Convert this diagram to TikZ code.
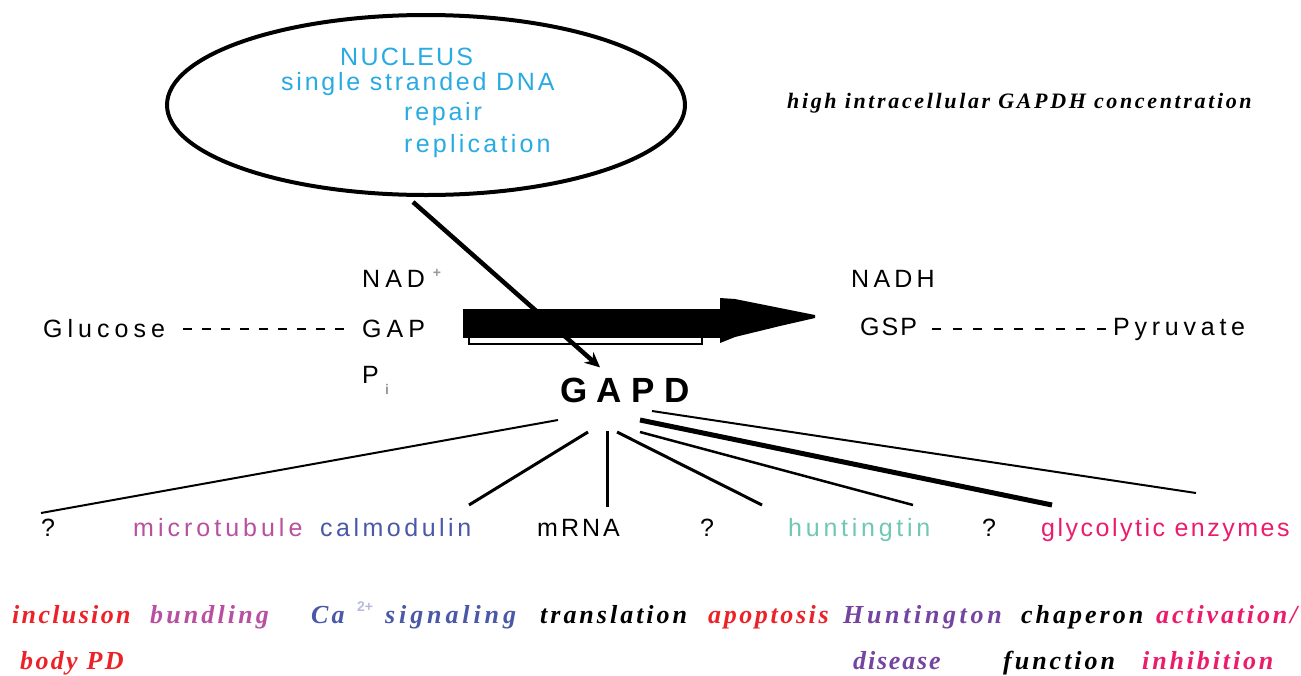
\documentclass[tikz,border=0pt]{standalone}
\usepackage{fontspec}
\setmainfont{Liberation Serif}
\newfontfamily\sansf{Liberation Sans}
\usetikzlibrary{arrows.meta,calc,shapes.geometric}
\definecolor{nucblue}{HTML}{29ABE2}
\definecolor{magc}{HTML}{B94FA0}
\definecolor{bluc}{HTML}{4A58A8}
\definecolor{tealc}{HTML}{70C8B4}
\definecolor{pinkc}{HTML}{EC1C6C}
\definecolor{redc}{HTML}{EC2228}
\definecolor{purc}{HTML}{7444A0}
\newcommand{\lsp}[1]{\addfontfeature{LetterSpace=#1}}
\begin{document}
\begin{tikzpicture}[x=1pt,y=-1pt,
  sanslab/.style={font=\sansf\fontsize{25}{30}\selectfont, inner sep=0pt, anchor=base west},
  seriflab/.style={font=\bfseries\itshape\fontsize{26}{30}\selectfont, inner sep=0pt, anchor=base west},
  suplab/.style={font=\sansf\bfseries\fontsize{14}{15}\selectfont, inner sep=0pt, text=black!40},
  dashline/.style={line width=2pt, dash pattern=on 9pt off 10pt},
  ray/.style={line width=#1},
  ray/.default=2.5pt]
\useasboundingbox (0,0) rectangle (1301,675);
\fill[white] (0,0) rectangle (1301,675);

% nucleus
\node[draw, ellipse, line width=4pt, minimum width=518pt, minimum height=180pt, inner sep=0pt] (nucleus) at (426,105) {};
\node[sanslab, text=nucblue] (nuc) at (340,65) {\lsp{9}NUCLEUS};
\node[sanslab, text=nucblue] (ssdna) at (281,90) {\lsp{11}single stranded DNA};
\node[sanslab, text=nucblue] (repair) at (404,120) {\lsp{11}repair};
\node[sanslab, text=nucblue] (replication) at (404,152) {\lsp{13}replication};

\node[font=\bfseries\itshape\fontsize{22}{26}\selectfont, inner sep=0pt, anchor=base west] (high) at (787,108) {\lsp{12}high intracellular GAPDH concentration};

% reaction labels
\node[sanslab] (glucose) at (43,337) {\lsp{20}Glucose};
\node[sanslab] (nad) at (362,287) {\lsp{20}NAD};
\node[suplab] (nadplus) at (437,273) {+};
\node[sanslab] (gap) at (362,337) {\lsp{20}GAP};
\node[sanslab] (pi) at (362,383) {P};
\node[suplab] (pisub) at (387,389) {i};
\node[sanslab] (nadh) at (851,287) {\lsp{17}NADH};
\node[sanslab] (gsp) at (860,335) {\lsp{8}GSP};
\node[sanslab] (pyruvate) at (1113,335) {\lsp{19}Pyruvate};
\node[font=\sansf\bfseries\fontsize{35}{40}\selectfont, inner sep=0pt, anchor=base west] (gapd) at (560,402) {\lsp{27}GAPD};

\draw[dashline] ($(glucose.base west)+(140,-8)$) -- ($(gap.base west)+(-18,-8)$);
\draw[dashline, dash pattern=on 9pt off 11.6pt] ($(gsp.base west)+(72,-6)$) -- ($(pyruvate.base west)+(-7,-6)$);

% big reaction arrow
\draw[line width=2.5pt] (469,334) -- (469,344) -- (702,344) -- (702,333);
\fill (463,309) rectangle (720,338);
\fill (720,298) -- (735,299) -- (780,308) -- (815,315) -- (815,318) -- (780,326) -- (735,337) -- (720,343) -- cycle;

% nucleus to GAPD
\coordinate (nucout) at ($(nucleus.south)+(-13,5)$);
\coordinate (gapdin) at ($(gapd.north west)+(40,-10)$);
\draw[line width=4.5pt, -{Stealth[length=15pt,width=14pt]}] (nucout) -- (gapdin);

% bottom labels
\node[sanslab] (q1) at (41,536) {?};
\node[sanslab, text=magc] (microtubule) at (133,536) {\lsp{16}microtubule};
\node[sanslab, text=bluc] (calmodulin) at (320,536) {\lsp{14}calmodulin};
\node[sanslab] (mrna) at (537,536) {\lsp{12}mRNA};
\node[sanslab] (q2) at (700,536) {?};
\node[sanslab, text=tealc] (huntingtin) at (788,536) {\lsp{15}huntingtin};
\node[sanslab] (q3) at (982,536) {?};
\node[sanslab, text=pinkc] (glyco) at (1041,536) {\lsp{10}glycolytic enzymes};

% rays from GAPD
\coordinate (sA) at (558,420); \coordinate (eA) at (41,513);
\coordinate (sB) at (588,432); \coordinate (eB) at (469,505);
\coordinate (sC) at (607,431); \coordinate (eC) at (607,507);
\coordinate (sD) at (617,432); \coordinate (eD) at (762,505);
\coordinate (sE) at (640,432); \coordinate (eE) at (913,505);
\coordinate (sF) at (640,420); \coordinate (eF) at (1052,505);
\coordinate (sG) at (652,411); \coordinate (eG) at (1196,493);
\draw[ray=2pt] (sA) -- (eA);
\draw[ray=3pt] (sB) -- (eB);
\draw[ray=3pt] (sC) -- (eC);
\draw[ray=3pt] (sD) -- (eD);
\draw[ray=2.5pt] (sE) -- (eE);
\draw[ray=5pt] (sF) -- (eF);
\draw[ray=2pt] (sG) -- (eG);

% function labels
\node[seriflab, text=redc] (inclusion) at (12,623) {\lsp{9}inclusion};
\node[seriflab, text=redc] (bodypd) at (20,669) {\lsp{9}body PD};
\node[seriflab, text=magc] (bundling) at (150,623) {\lsp{12}bundling};
\node[seriflab, text=bluc] (ca) at (311,623) {\lsp{12}Ca};
\node[suplab, text=bluc!40] (ca2) at (365,607) {2+};
\node[seriflab, text=bluc] (signaling) at (385,623) {\lsp{15}signaling};
\node[seriflab] (translation) at (540,623) {\lsp{11.5}translation};
\node[seriflab, text=redc] (apoptosis) at (708,623) {\lsp{10}apoptosis};
\node[seriflab, text=purc] (huntington) at (843,623) {\lsp{14}Huntington};
\node[seriflab, text=purc] (disease) at (853,669) {\lsp{7}disease};
\node[seriflab] (chaperon) at (1021,623) {\lsp{11.5}chaperon};
\node[seriflab] (function) at (1003,669) {\lsp{11.5}function};
\node[seriflab, text=pinkc] (activation) at (1156,623) {\lsp{11}activation/};
\node[seriflab, text=pinkc] (inhibition) at (1142,669) {\lsp{11}inhibition};
\end{tikzpicture}
\end{document}
